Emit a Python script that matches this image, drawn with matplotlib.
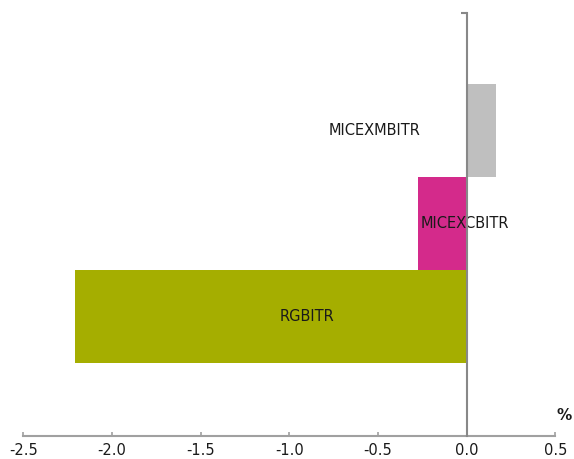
import matplotlib
matplotlib.use("Agg")
import matplotlib.pyplot as plt

# data (bottom to top)
names = ["RGBITR", "MICEXCBITR", "MICEXMBITR"]
values = [-2.21, -0.275, 0.165]
colors = ["#A5AE00", "#D42A8B", "#BFBFBF"]
xticks = [-2.5, -2.0, -1.5, -1.0, -0.5, 0.0, 0.5]
# data-label x positions (as Excel placed them)
label_x = [-0.90, -0.01, -0.52]

plt.rcParams['font.family'] = ['DejaVu Sans']

fig = plt.figure(figsize=(5.74, 4.59), dpi=100)
ax = fig.add_axes([0.0406, 0.0501, 0.927, 0.9216])

pos = list(range(len(names)))
ax.barh(pos, values, height=1.0, color=colors, zorder=2)

for p, lx, n in zip(pos, label_x, names):
    ax.text(lx, p, n, ha="center", va="center", fontsize=10.5, color="#1a1a1a", zorder=3)

ax.set_xlim(-2.5, 0.5)
ax.set_ylim(-1.29, 3.26)
ax.set_xticks(xticks)
ax.set_xticklabels([f"{t:.1f}" for t in xticks])

for s in ("top", "right"):
    ax.spines[s].set_visible(False)
ax.spines["left"].set_position(("data", 0))
ax.spines["left"].set_color("#888888")
ax.spines["left"].set_linewidth(1.5)
ax.spines["left"].set_zorder(4)
ax.spines["bottom"].set_color("#A0A0A0")
ax.spines["bottom"].set_linewidth(1.5)

ax.set_yticks([3.26])
ax.set_yticklabels([])
ax.tick_params(axis="y", direction="out", length=4, width=1.5, color="#888888")
ax.tick_params(axis="x", direction="in", length=3, width=1.2, color="#A0A0A0",
               labelsize=10.5, pad=5, labelcolor="#1a1a1a")

fig.text(564 / 574, 1 - 415 / 459, "%", ha="center", va="center",
         fontsize=11, fontweight="bold", color="#1a1a1a")

fig.savefig("out.png", dpi=100)
